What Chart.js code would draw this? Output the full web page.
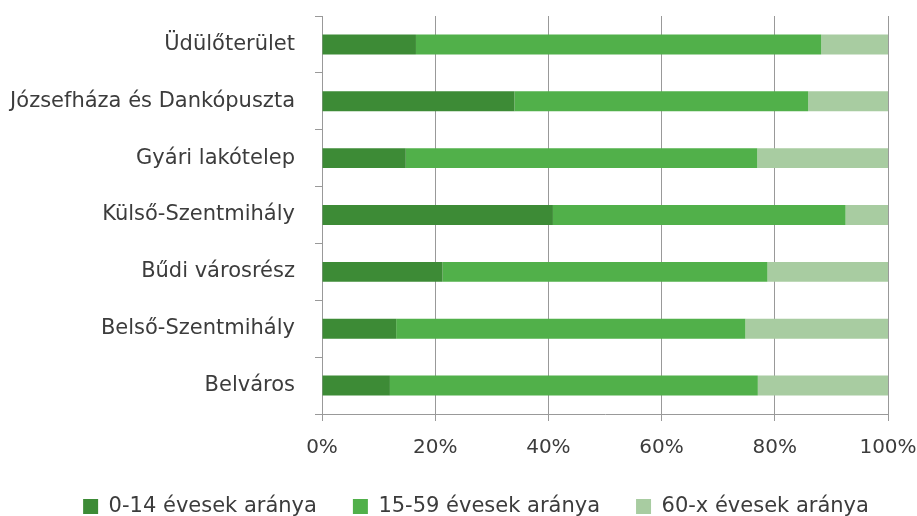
<!DOCTYPE html>
<html>
<head>
<meta charset="utf-8">
<script src="https://cdn.jsdelivr.net/npm/chart.js@4/dist/chart.umd.min.js"></script>
<style>
  html, body { margin: 0; padding: 0; background: #fff; }
  #wrap { width: 917px; height: 516px; }
</style>
</head>
<body>
<div id="wrap"><canvas id="korcsoport" width="917" height="516"></canvas></div>
<script>
const categories = [
  'Üdülőterület',
  'Józsefháza és Dankópuszta',
  'Gyári lakótelep',
  'Külső-Szentmihály',
  'Bűdi városrész',
  'Belső-Szentmihály',
  'Belváros'
];
const young = [16.6, 34.0, 14.8, 40.8, 21.3, 13.1, 12.0];
const working = [71.6, 51.9, 62.1, 51.7, 57.4, 61.7, 65.0];
const old = [11.8, 14.1, 23.1, 7.5, 21.3, 25.2, 23.0];
const seriesNames = ['0-14 évesek aránya', '15-59 évesek aránya', '60-x évesek aránya'];
const xTicks = [0, 20, 40, 60, 80, 100];

const colors = ['#3d8b36', '#51b04a', '#a8cca1'];
const family = "'DejaVu Sans', sans-serif";
const textColor = '#3c3c3c';
const gridColor = '#999999';

const makeSet = (label, data, color) => ({
  label: label,
  data: data,
  backgroundColor: color,
  borderWidth: 0,
  barPercentage: 0.35,
  categoryPercentage: 1
});

// nudge the legend a bit to the right, like in the original
const legendShift = {
  id: 'legendShift',
  afterLayout: (chart) => {
    const lg = chart.legend;
    if (!lg) return;
    lg.left += 32;
    lg.right += 32;
  }
};

const createChart = () => {
  const ctx = document.querySelector('#korcsoport');
  new Chart(ctx, {
    type: 'bar',
    data: {
      labels: categories,
      datasets: [
        makeSet(seriesNames[0], young, colors[0]),
        makeSet(seriesNames[1], working, colors[1]),
        makeSet(seriesNames[2], old, colors[2])
      ]
    },
    plugins: [legendShift],
    options: {
      indexAxis: 'y',
      responsive: false,
      animation: false,
      layout: { padding: { top: 16, right: 29, bottom: -11, left: 0 } },
      plugins: {
        tooltip: { enabled: false },
        legend: {
          position: 'bottom',
          labels: {
            font: { family: family, size: 21 },
            color: textColor,
            boxWidth: 15,
            boxHeight: 15,
            padding: 36
          }
        }
      },
      scales: {
        x: {
          stacked: true,
          min: 0,
          max: 100,
          afterBuildTicks: (scale) => { scale.ticks = xTicks.map(v => ({ value: v })); },
          afterFit: (scale) => {
            scale.height = 46;
            scale.paddingLeft = 0;
            scale.paddingRight = 0;
          },
          ticks: {
            font: { family: family, size: 20 },
            color: textColor,
            padding: 15,
            callback: (v) => v + '%'
          },
          grid: { color: gridColor, lineWidth: 1, tickLength: 7 },
          border: { color: gridColor }
        },
        y: {
          stacked: true,
          afterFit: (scale) => {
            scale.width = 322;
            scale.paddingTop = 0;
            scale.paddingBottom = 0;
          },
          ticks: { font: { family: family, size: 21 }, color: textColor, padding: 20 },
          grid: { drawOnChartArea: false, color: gridColor, tickLength: 7 },
          border: { color: gridColor }
        }
      }
    }
  });
};

createChart();
</script>
</body>
</html>
